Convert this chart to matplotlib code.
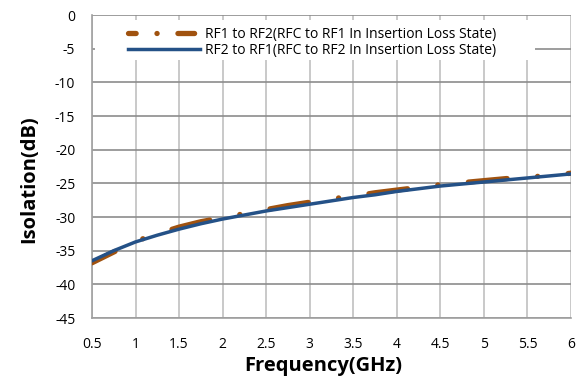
import matplotlib
matplotlib.use("Agg")
import matplotlib.pyplot as plt
from matplotlib.patches import Rectangle
from matplotlib.lines import Line2D

plt.rcParams['font.family'] = ['Open Sans', 'DejaVu Sans']
plt.rcParams['lines.scale_dashes'] = False

freq = [0.5, 0.75, 1.0, 1.25, 1.5, 1.75, 2.0, 2.25, 2.5, 2.75, 3.0, 3.25,
        3.5, 3.75, 4.0, 4.25, 4.5, 4.75, 5.0, 5.25, 5.5, 5.75, 6.0]
rf1_to_rf2 = [-36.8, -35.2, -33.6, -32.5, -31.5, -30.7, -30.1, -29.5, -28.9,
              -28.3, -27.8, -27.3, -26.9, -26.4, -26.0, -25.6, -25.2, -24.9,
              -24.6, -24.3, -24.1, -23.8, -23.5]
rf2_to_rf1 = [-36.5, -35.0, -33.7, -32.7, -31.8, -31.0, -30.3, -29.7, -29.1,
              -28.6, -28.1, -27.6, -27.1, -26.7, -26.2, -25.8, -25.4, -25.1,
              -24.8, -24.5, -24.2, -23.9, -23.6]
labels = ['RF1 to RF2(RFC to RF1 In Insertion Loss State)',
          'RF2 to RF1(RFC to RF2 In Insertion Loss State)']
xticks = [0.5, 1, 1.5, 2, 2.5, 3, 3.5, 4, 4.5, 5, 5.5, 6]
xticklabels = ['0.5', '1', '1.5', '2', '2.5', '3', '3.5', '4', '4.5', '5', '5.5', '6']
yticks = [0, -5, -10, -15, -20, -25, -30, -35, -40, -45]

orange = '#A0520F'
blue = '#245187'

fig = plt.figure(figsize=(5.8, 3.89), dpi=100)
ax = fig.add_axes([0.1586, 0.1825, 0.8259, 0.7789])

ax.plot(freq, rf1_to_rf2, color=orange, lw=3.8,
        linestyle=(9.5, (28, 22, 0.1, 22)), dash_capstyle='round',
        solid_capstyle='round', label=labels[0], zorder=3)
ax.plot(freq, rf2_to_rf1, color=blue, lw=2.5, label=labels[1], zorder=4)

ax.set_xlim(0.5, 6)
ax.set_ylim(-45, 0)
ax.set_xticks(xticks)
ax.set_xticklabels(xticklabels)
ax.set_yticks(yticks)
ax.set_yticklabels([str(v) for v in yticks])
ax.tick_params(axis='both', length=0, labelsize=10, colors='#000000')
ax.tick_params(axis='x', pad=14)
ax.tick_params(axis='y', pad=12)

ax.grid(axis='y', color='#8c8c8c', lw=1.2)
ax.grid(axis='x', color='#c0c0c0', lw=1.2)
ax.set_axisbelow(True)
for s in ['top', 'right']:
    ax.spines[s].set_visible(False)
ax.spines['left'].set_color('#a0a0a0')
ax.spines['bottom'].set_color('#a0a0a0')
ax.spines['left'].set_linewidth(1.2)
ax.spines['bottom'].set_linewidth(1.2)

ax.set_xlabel('Frequency(GHz)', fontsize=14.5, fontweight='bold')
ax.set_ylabel('Isolation(dB)', fontsize=14.5, fontweight='bold')
ax.xaxis.set_label_coords(0.482, -0.124)
ax.yaxis.set_label_coords(-0.111, 0.459)

# legend background box
ax.add_patch(Rectangle((0.006, 0.851), 0.919, 0.132, transform=ax.transAxes,
                       facecolor='white', edgecolor='none', zorder=2))

handles = [
    Line2D([], [], color=orange, lw=3.8, linestyle=(0, (5.5, 15, 0.1, 15, 12)),
           dash_capstyle='round', solid_capstyle='round'),
    Line2D([], [], color=blue, lw=2.5),
]
leg = ax.legend(handles, labels, loc='upper left', bbox_to_anchor=(0.075, 0.962),
                fontsize=10, frameon=False, handlelength=5.2, handletextpad=0.35,
                borderpad=0, labelspacing=0.08, borderaxespad=0)

fig.savefig('out.png', dpi=100)
